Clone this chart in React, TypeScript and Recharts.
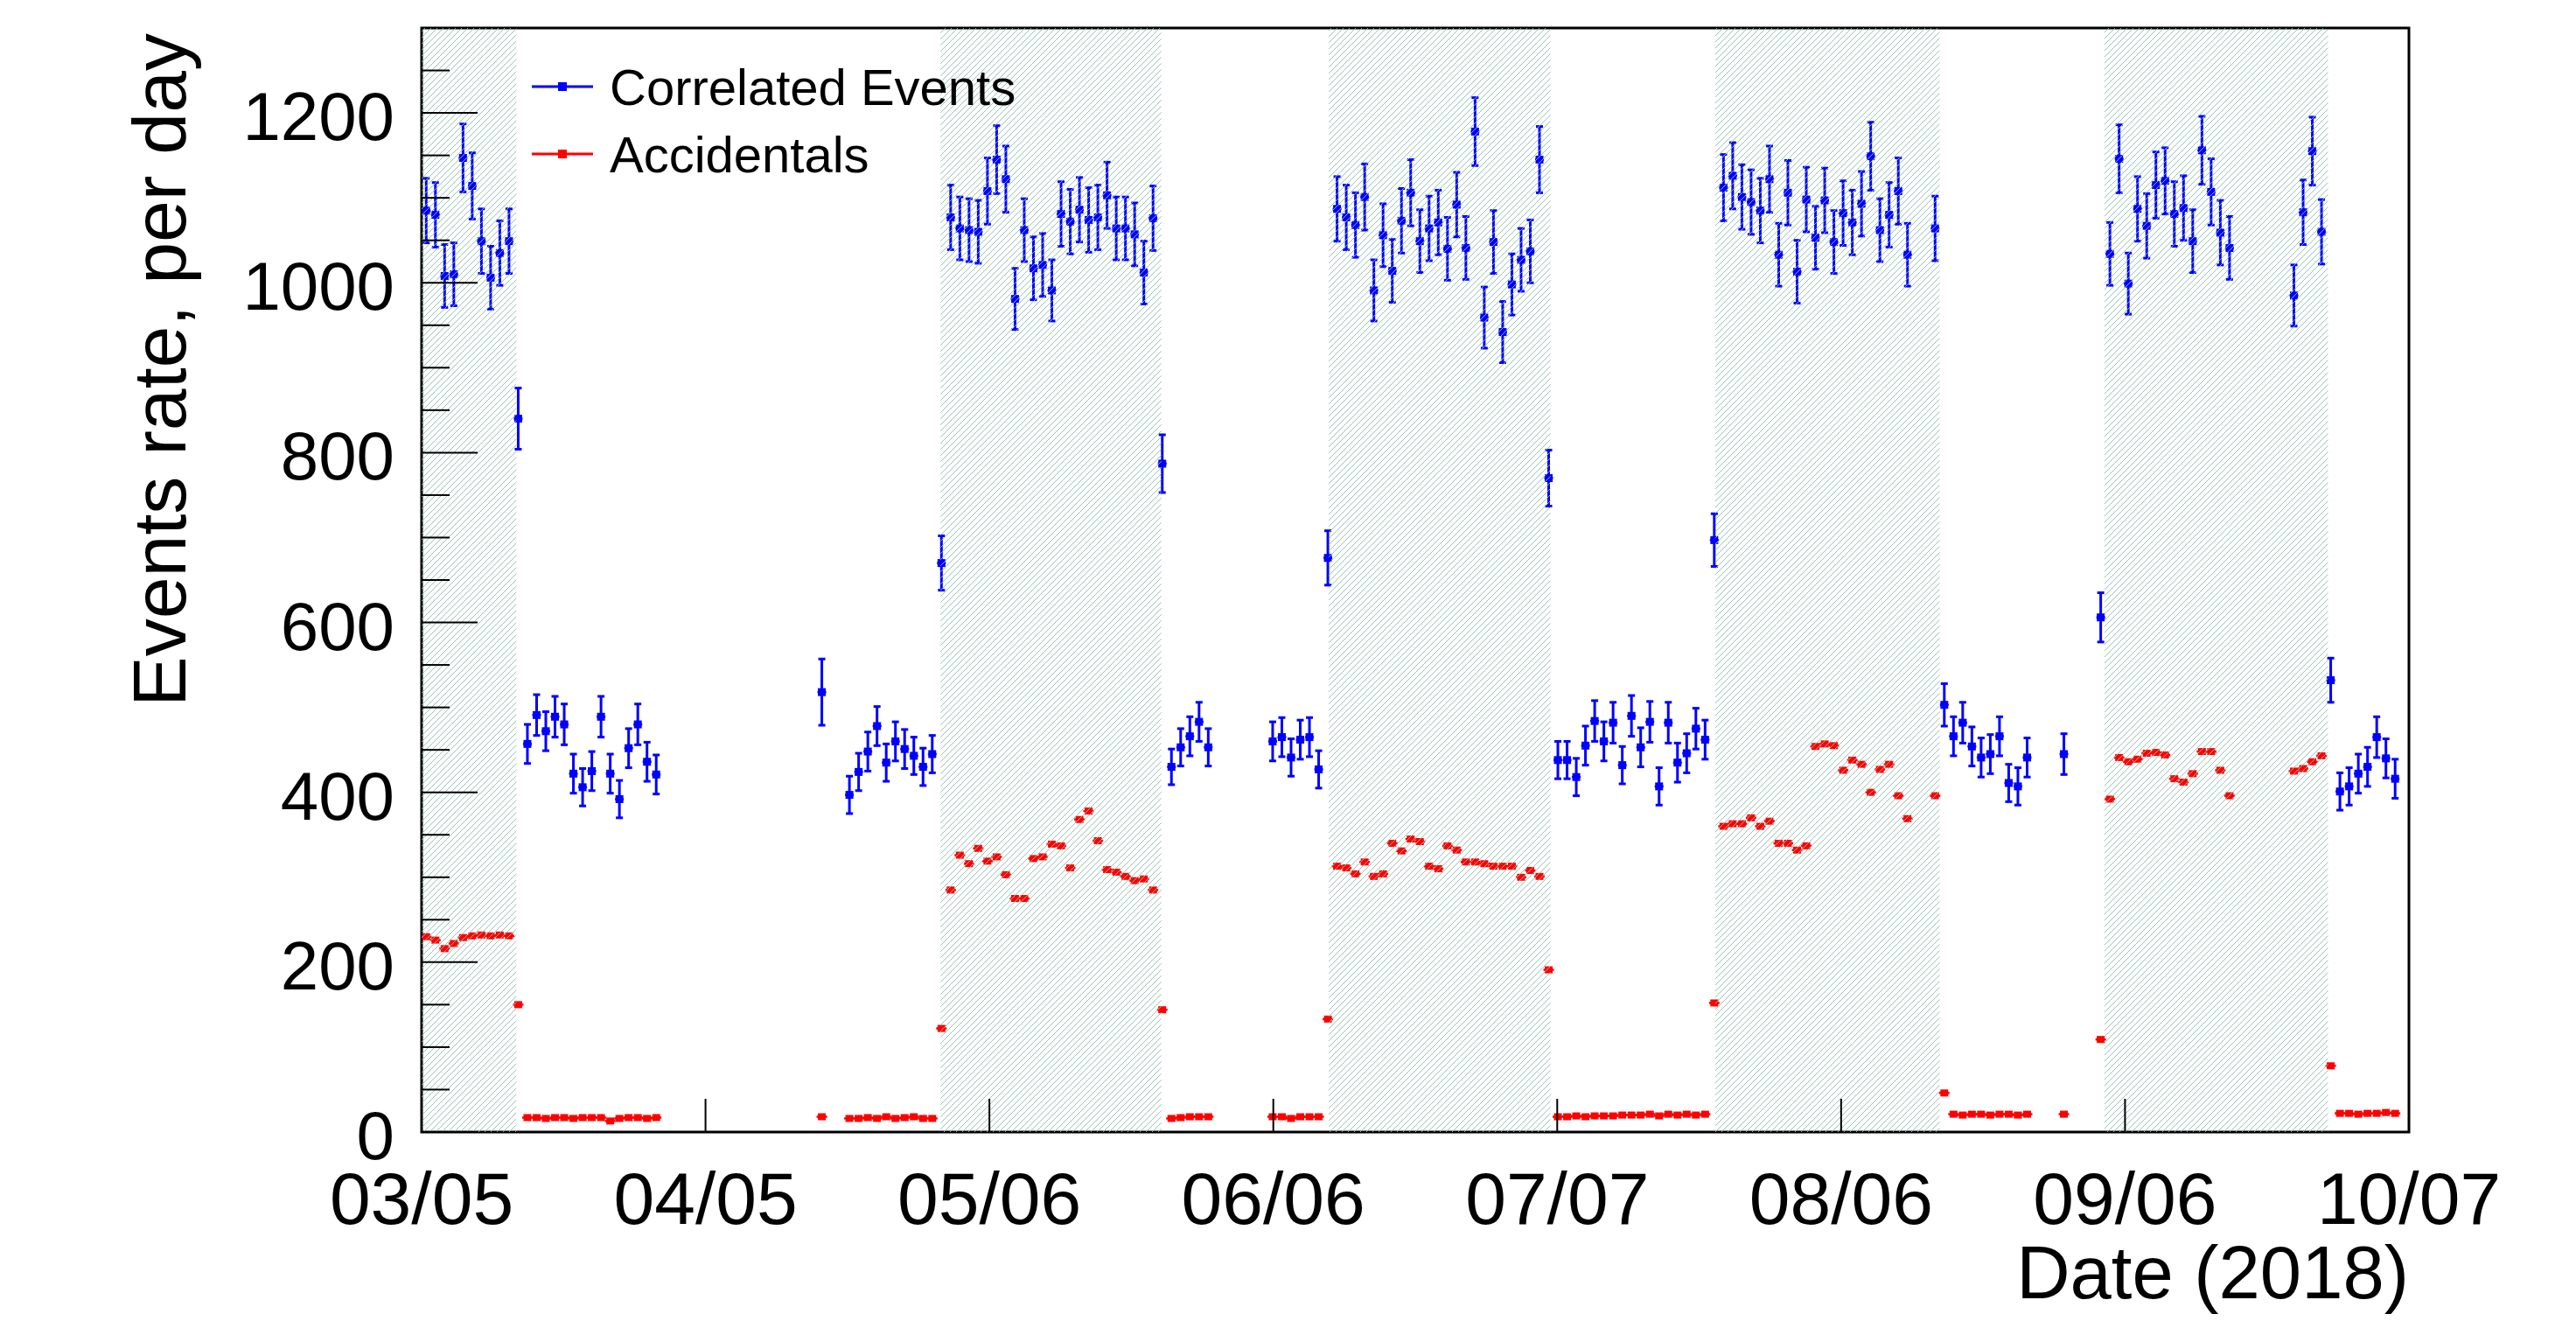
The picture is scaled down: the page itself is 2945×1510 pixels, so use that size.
import React from "react";
import {
  ScatterChart,
  Scatter,
  XAxis,
  YAxis,
  ErrorBar,
  ReferenceArea,
  Legend,
} from "recharts";

const FONT = "'Liberation Sans', Arial, Helvetica, sans-serif";
const BLUE = "#0000ff";
const RED = "#ff0000";

// day bins, counted from 03/05 (bin centres)
const days = [
  0.5, 1.5, 2.5, 3.5, 4.5, 5.5, 6.5, 7.5, 8.5, 9.5, 10.5, 11.5, 12.5, 13.5, 14.5, 15.5, 16.5, 17.5, 18.5, 19.5, 20.5, 21.5, 22.5, 23.5, 24.5, 25.5,
  43.5,
  46.5, 47.5, 48.5, 49.5, 50.5, 51.5, 52.5, 53.5, 54.5, 55.5, 56.5, 57.5, 58.5, 59.5, 60.5, 61.5, 62.5, 63.5, 64.5, 65.5, 66.5, 67.5, 68.5, 69.5,
  70.5, 71.5, 72.5, 73.5, 74.5, 75.5, 76.5, 77.5, 78.5, 79.5, 80.5, 81.5, 82.5, 83.5, 84.5, 85.5,
  92.5, 93.5, 94.5, 95.5, 96.5, 97.5, 98.5, 99.5, 100.5, 101.5, 102.5, 103.5, 104.5, 105.5, 106.5, 107.5, 108.5, 109.5, 110.5, 111.5, 112.5,
  113.5, 114.5, 115.5, 116.5, 117.5, 118.5, 119.5, 120.5, 121.5, 122.5, 123.5, 124.5, 125.5, 126.5, 127.5, 128.5, 129.5, 130.5, 131.5, 132.5,
  133.5, 134.5, 135.5, 136.5, 137.5, 138.5, 139.5, 140.5, 141.5, 142.5, 143.5, 144.5, 145.5, 146.5, 147.5, 148.5, 149.5, 150.5, 151.5, 152.5,
  153.5, 154.5, 155.5, 156.5, 157.5, 158.5, 159.5, 160.5, 161.5,
  164.5, 165.5, 166.5, 167.5, 168.5, 169.5, 170.5, 171.5, 172.5, 173.5, 174.5,
  178.5,
  182.5, 183.5, 184.5, 185.5, 186.5, 187.5, 188.5, 189.5, 190.5, 191.5, 192.5, 193.5, 194.5, 195.5, 196.5,
  203.5, 204.5, 205.5, 206.5, 207.5, 208.5, 209.5, 210.5, 211.5, 212.5, 213.5, 214.5,
];

const correlated = [
  1085, 1080, 1008, 1010, 1147, 1114, 1049, 1006, 1035, 1049, 840, 457, 491, 472, 489, 480, 422, 406, 425, 489, 422, 392, 452, 480, 436, 421,
  518,
  397, 424, 448, 478, 435, 460, 451, 443, 430, 445, 670, 1077, 1064, 1062, 1060, 1108, 1145, 1122, 981, 1062, 1017, 1021, 991, 1081,
  1072, 1086, 1074, 1077, 1103, 1064, 1064, 1057, 1012, 1076, 787, 430, 453, 466, 483, 453,
  460, 465, 441, 462, 465, 427, 676, 1087, 1077, 1068, 1101, 991, 1056, 1014, 1073, 1106, 1049, 1064, 1071, 1040, 1092,
  1041, 1178, 959, 1048, 942, 998, 1027, 1037, 1145, 770, 438, 438, 418, 455, 484, 460, 482, 432, 490, 453,
  483, 407, 482, 435, 446, 475, 462, 697, 1112, 1126, 1101, 1095, 1085, 1122, 1033, 1106, 1013, 1098, 1053, 1097,
  1048, 1082, 1071, 1093, 1149, 1062, 1080, 1108, 1033,
  1064, 503, 466, 482, 454, 441, 445, 466, 411, 407, 441,
  445,
  606, 1034, 1146, 999, 1087, 1067, 1115, 1120, 1081, 1088, 1049, 1156, 1107, 1059, 1041,
  985, 1083, 1155, 1060, 532, 401, 407, 422, 430, 465, 440, 416,
];

const correlatedErr = [
  38, 38, 37, 37, 40, 39, 38, 37, 38, 38, 36, 23, 24, 23, 24, 24, 23, 22, 23, 24, 23, 22, 23, 24, 23, 23,
  39,
  22, 22, 23, 23, 22, 23, 23, 22, 22, 22, 32, 38, 37, 37, 37, 39, 40, 39, 36, 37, 37, 37, 36, 38,
  38, 38, 38, 38, 39, 37, 37, 37, 37, 38, 34, 21, 22, 23, 23, 22,
  23, 23, 22, 23, 23, 22, 32, 38, 38, 38, 39, 36, 37, 37, 38, 39, 37, 38, 38, 37, 38,
  37, 40, 36, 37, 36, 36, 37, 37, 39, 33, 22, 22, 22, 23, 24, 23, 24, 22, 24, 23,
  24, 22, 24, 23, 23, 24, 23, 31, 39, 39, 38, 38, 38, 39, 37, 38, 37, 38, 37, 38,
  37, 38, 38, 38, 40, 37, 38, 39, 37,
  38, 25, 23, 24, 23, 23, 23, 23, 22, 22, 23,
  24,
  29, 37, 40, 36, 38, 38, 39, 39, 38, 38, 37, 40, 39, 38, 37,
  36, 38, 40, 38, 26, 22, 22, 23, 23, 24, 23, 23,
];

const accidentals = [
  230, 226, 216, 222, 229, 231, 232, 231, 232, 231, 150, 17, 17, 16, 17, 17, 16, 17, 17, 17, 13, 16, 17, 17, 16, 17,
  18,
  16, 16, 17, 16, 18, 16, 17, 18, 16, 16, 122, 285, 326, 316, 334, 319, 324, 303, 275, 275, 322, 324, 339, 337,
  311, 368, 378, 343, 309, 306, 301, 296, 298, 285, 144, 16, 17, 18, 18, 18,
  18, 18, 16, 18, 18, 18, 133, 313, 311, 304, 318, 301, 304, 340, 331, 345, 342, 313, 310, 337, 332,
  318, 318, 316, 313, 313, 313, 300, 308, 301, 191, 18, 18, 19, 18, 19, 19, 19, 20, 20, 20,
  21, 19, 21, 20, 21, 20, 21, 152, 360, 363, 363, 370, 360, 366, 340, 340, 332, 337, 454, 457,
  455, 426, 438, 433, 400, 427, 433, 396, 369,
  396, 46, 21, 20, 21, 21, 20, 21, 21, 20, 21,
  21,
  109, 392, 441, 436, 439, 446, 447, 444, 416, 412, 422, 448, 448, 426, 396,
  425, 428, 436, 443, 78, 22, 22, 21, 22, 22, 23, 22,
];

// shaded periods, in days
const periodStart = [0, 56.4, 98.6, 140.6, 182.9];
const periodEnd = [10.3, 80.4, 122.7, 165, 207.2];

const dateTicks = [0, 30.857, 61.714, 92.571, 123.429, 154.286, 185.143, 216];
const dateLabels = ["03/05", "04/05", "05/06", "06/06", "07/07", "08/06", "09/06", "10/07"];

const rateTicks = [
  0, 50, 100, 150, 200, 250, 300, 350, 400, 450, 500, 550, 600, 650, 700, 750, 800, 850, 900, 950, 1000, 1050, 1100, 1150,
  1200, 1250,
];

const seriesNames = ["Correlated Events", "Accidentals"];
const seriesColors = [BLUE, RED];

const corrData = days.map((day, i) => ({ day, v: correlated[i], err: correlatedErr[i] }));
const accData = days.map((day, i) => ({ day, v: accidentals[i] }));

const CorrMarker = (p: any) => {
  const { cx, cy } = p;
  if (cx == null || cy == null) return <g />;
  return (
    <g>
      <line x1={cx - 5} x2={cx + 5} y1={cy} y2={cy} stroke={BLUE} strokeWidth={2.5} />
      <rect x={cx - 4.5} y={cy - 4.5} width={9} height={9} fill={BLUE} />
    </g>
  );
};

const AccMarker = (p: any) => {
  const { cx, cy } = p;
  if (cx == null || cy == null) return <g />;
  return (
    <g>
      <line x1={cx - 6} x2={cx + 6} y1={cy} y2={cy} stroke={RED} strokeWidth={2.5} />
      <rect x={cx - 4.5} y={cy - 4} width={9} height={8} fill={RED} />
    </g>
  );
};

const RateTick = (p: any) => {
  const { x, y, payload } = p;
  const v = payload.value;
  const major = v % 200 === 0;
  return (
    <g>
      <line x1={x} x2={x + (major ? 64 : 32)} y1={y} y2={y} stroke="#000" strokeWidth={2} />
      {major && (
        <text x={x - 31} y={y + 31} textAnchor="end" fontSize={78} fontFamily={FONT} fill="#000">
          {v}
        </text>
      )}
    </g>
  );
};

const DateTick = (p: any) => {
  const { x, y, payload } = p;
  const i = dateTicks.indexOf(payload.value);
  return (
    <g>
      <line x1={x} x2={x} y1={y} y2={y - 38} stroke="#000" strokeWidth={2} />
      <text x={x} y={y + 105} textAnchor="middle" fontSize={84} fontFamily={FONT} fill="#000">
        {dateLabels[i]}
      </text>
    </g>
  );
};

const rateTitle = (p: any) => {
  const vb = p && p.viewBox ? p.viewBox : { x: 0, y: 32 };
  const x = vb.x + 212;
  const y = vb.y + 6;
  return (
    <text x={x} y={y} transform={`rotate(-90 ${x} ${y})`} textAnchor="end" fontSize={86} fontFamily={FONT} fill="#000">
      Events rate, per day
    </text>
  );
};

const dateTitle = (p: any) => {
  const vb = p && p.viewBox ? p.viewBox : { x: 482, y: 1294, width: 2272 };
  const x = vb.x + vb.width;
  const y = vb.y + 190;
  return (
    <text x={x} y={y} textAnchor="end" fontSize={85} fontFamily={FONT} fill="#000">
      Date (2018)
    </text>
  );
};

const LegendBox = () => (
  <svg width={600} height={180} style={{ display: "block" }}>
    {seriesNames.map((name, i) => {
      const cy = 49 + i * 77;
      return (
        <g key={name}>
          <line x1={18} x2={88} y1={cy} y2={cy} stroke={seriesColors[i]} strokeWidth={3} />
          <rect x={48} y={cy - 5} width={10} height={10} fill={seriesColors[i]} />
          <text x={107} y={cy + 21} fontSize={58} fontFamily={FONT} fill="#000">
            {name}
          </text>
        </g>
      );
    })}
  </svg>
);

export default function App() {
  return (
    <div style={{ position: "absolute", left: 0, top: 0, background: "#fff" }}>
      <ScatterChart width={2945} height={1510} margin={{ top: 32, right: 191, bottom: 16, left: 0 }}>
        <defs>
          <pattern id="hatch" patternUnits="userSpaceOnUse" width={7} height={7}>
            <path d="M-1,1 L1,-1 M0,7 L7,0 M6,8 L8,6" stroke="#8cbcac" strokeWidth={0.9} />
          </pattern>
        </defs>
        <XAxis
          type="number"
          dataKey="day"
          domain={[0, 216]}
          allowDataOverflow
          ticks={dateTicks}
          interval={0}
          tick={DateTick}
          tickLine={false}
          axisLine={false}
          tickSize={0}
          tickMargin={0}
          height={200}
          label={{ content: dateTitle }}
        />
        <YAxis
          type="number"
          dataKey="v"
          domain={[0, 1300]}
          allowDataOverflow
          ticks={rateTicks}
          interval={0}
          tick={RateTick}
          tickLine={false}
          axisLine={false}
          tickSize={0}
          tickMargin={0}
          width={482}
          label={{ content: rateTitle }}
        />
        <ReferenceArea x1={0} x2={216} y1={0} y2={1300} fill="none" stroke="#000" strokeWidth={3} />
        <Scatter name={seriesNames[0]} data={corrData} fill={BLUE} shape={CorrMarker} isAnimationActive={false}>
          <ErrorBar dataKey="err" direction="y" width={4} strokeWidth={3} stroke={BLUE} />
        </Scatter>
        <Scatter name={seriesNames[1]} data={accData} fill={RED} shape={AccMarker} isAnimationActive={false} />
        {periodStart.map((s, i) => (
          <ReferenceArea
            key={s}
            x1={s}
            x2={periodEnd[i]}
            y1={0}
            y2={1300}
            fill="url(#hatch)"
            fillOpacity={1}
            stroke="none"
            zIndex={650}
          />
        ))}
        <Legend
          layout="vertical"
          align="center"
          verticalAlign="middle"
          wrapperStyle={{ left: 590, top: 50, width: 600, height: 180 }}
          content={LegendBox}
        />
      </ScatterChart>
    </div>
  );
}
